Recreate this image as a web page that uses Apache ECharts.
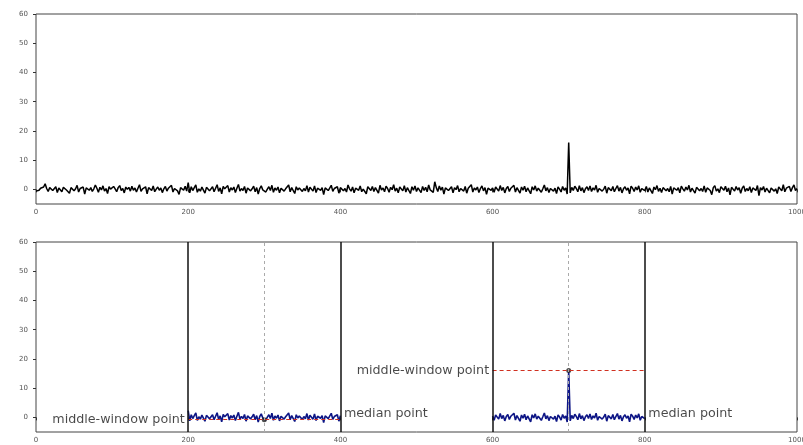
<!DOCTYPE html>
<html><head><meta charset="utf-8">
<script src="https://cdn.jsdelivr.net/npm/echarts@6/dist/echarts.min.js"></script>
<style>html,body{margin:0;padding:0;background:#fff}#c{width:803px;height:445px}</style>
</head><body><div id="c"></div>
<script>
// x step between samples
const xStep = 2;
// signal values, sampled at x = 0, 2, 4, ..., 1000
const signal = [
-0.6,-0.9,-0.3,0.4,-0.2,0.8,1.9,0.3,-0.7,0.6,1.2,-0.4,0.2,0.9,-1.1,0.5,0.1,-0.8,0.7,1.3,
-0.2,0.4,-1.3,0.6,1.0,-0.5,0.2,1.4,-0.9,0.3,-0.1,0.8,-1.6,0.5,1.1,-0.3,0.6,-0.7,0.2,1.5,
0.4,-1.0,0.7,-0.2,1.2,-0.6,0.3,-1.4,0.9,0.1,-0.5,1.0,0.2,-0.8,0.6,1.3,-0.4,0.3,-1.2,0.8,
0.0,0.7,-0.6,1.1,-0.3,0.5,-0.9,0.4,1.6,-0.7,0.2,-0.2,0.9,-1.5,0.6,0.3,-0.4,1.2,-0.8,0.1,
0.8,-0.3,0.5,-1.1,0.2,1.0,-0.6,0.4,-0.1,1.4,-0.9,0.3,0.7,-0.5,-1.7,0.6,0.2,-0.3,1.1,-0.6,
2.3,-1.2,0.9,-0.4,0.6,1.5,-1.0,0.2,-0.6,0.8,0.3,-1.3,0.7,1.2,-0.5,0.1,0.9,-0.8,0.4,1.6,
-0.7,0.5,-1.5,1.0,0.2,-0.3,1.3,-0.9,0.6,-0.2,0.8,-1.1,0.4,1.7,-0.6,0.3,-0.4,1.0,-1.3,0.5,
0.9,-0.5,0.2,1.1,-0.8,0.6,-1.6,0.3,1.2,-0.2,-0.8,-0.9,0.1,0.9,-0.4,1.4,-1.0,0.5,-0.3,0.8,
-1.2,0.4,1.0,-0.6,0.2,-0.1,1.5,-0.8,0.6,0.3,-1.4,0.9,-0.2,0.5,1.1,-0.7,0.3,-0.5,1.3,-0.9,
0.7,0.1,-0.6,1.2,-1.1,0.4,0.8,-0.3,0.6,-1.8,0.5,1.0,-0.4,0.2,1.4,-0.7,0.3,-0.2,0.9,-1.3,
0.6,1.1,-0.5,0.3,-0.9,1.5,0.2,-0.6,0.8,-1.2,0.4,0.7,-0.3,1.2,-0.8,0.1,0.5,-1.5,0.9,0.3,
-0.4,1.0,-0.7,0.6,0.2,-1.3,1.4,-0.2,0.5,-0.8,1.1,0.3,-1.0,0.7,-0.1,1.6,-0.6,0.4,-1.2,0.8,
0.2,-0.5,1.3,-0.9,0.6,0.1,-1.4,0.9,-0.3,1.2,-0.7,0.5,0.3,-1.1,1.0,-0.4,0.7,-0.8,1.5,-0.2,
0.4,-1.0,2.6,0.6,-0.7,1.2,-0.3,0.8,-1.6,0.5,1.1,-0.4,0.2,0.9,-1.2,0.6,-0.1,1.3,-0.8,0.3,
0.7,-0.6,1.0,-1.3,0.4,0.2,1.6,-0.9,0.5,-0.2,0.8,-1.1,0.3,1.2,-0.5,0.6,-1.7,0.4,0.9,-0.3,
0.5,-1.0,0.8,0.2,-0.6,1.3,-0.4,0.7,-1.2,0.3,1.0,-0.7,0.4,-0.1,1.4,-0.9,0.6,0.2,-1.3,0.8,
-0.3,1.1,-0.8,0.5,0.3,-1.5,0.9,-0.2,1.2,-0.6,0.4,0.7,-1.0,0.2,1.5,-0.5,0.6,-1.1,0.3,0.9,
-0.6,0.4,-1.4,0.8,0.1,-0.9,1.0,-0.3,0.5,-1.6,16.0,-1.2,0.7,-0.4,1.1,0.3,-0.8,1.3,-0.5,0.6,
-1.1,0.2,0.9,-0.4,1.2,-0.7,0.5,-0.2,1.4,-1.0,0.3,0.8,-0.6,0.1,1.1,-1.3,0.6,0.4,-0.5,1.0,
-0.8,0.3,1.3,-0.6,0.7,-1.2,0.2,0.9,-0.3,0.5,-1.5,1.1,0.4,-0.7,0.8,-0.2,1.2,-1.0,0.3,0.6,
-0.4,1.0,-0.9,0.5,0.2,-1.4,0.8,-0.1,1.3,-0.7,0.4,-1.1,0.6,1.2,-0.5,0.3,-0.8,1.0,-1.6,0.5,
0.9,-0.3,0.6,-1.2,1.1,0.2,-0.6,0.8,-0.2,1.4,-0.9,0.4,0.1,-1.3,0.7,1.0,-0.5,0.3,-0.7,1.2,
-1.0,0.5,0.8,-0.4,-1.8,0.6,1.3,-0.6,0.2,-1.1,0.9,0.4,-0.3,1.1,-0.8,0.5,-1.9,0.7,0.3,-0.6,
1.0,-0.2,0.6,-1.3,0.4,1.2,-0.7,0.3,-0.5,0.9,-1.1,0.5,0.8,-0.4,1.3,-2.1,0.6,-0.2,1.0,-0.9,
0.4,0.7,-1.2,0.5,1.1,-0.6,0.2,-1.4,0.8,0.3,-0.5,1.6,-0.8,0.4,-0.1,1.0,-0.7,0.6,1.5,-0.4,
0.3
];
// analysis windows [start, end]
const windows = [[200, 400], [600, 800]];
// axis ticks
const xTicks = [0, 200, 400, 600, 800, 1000];
const yTicks = [0, 10, 20, 30, 40, 50, 60];
const labelMiddle = 'middle-window point';
const labelMedian = 'median point';

const pts = signal.map((v, i) => [i * xStep, v]);
function median(arr) { const s = arr.slice().sort((a, b) => a - b); const n = s.length; return n % 2 ? s[(n - 1) / 2] : (s[n / 2 - 1] + s[n / 2]) / 2; }

const axisLabelStyle = { fontSize: 7, color: '#555', fontFamily: 'DejaVu Sans' };
function xAxis(gi) {
  return { type: 'value', gridIndex: gi, min: 0, max: 1000, interval: 200,
    axisLine: { show: false }, axisTick: { show: true, length: 3, lineStyle: { color: '#333' } },
    axisLabel: Object.assign({ margin: 5, formatter: v => String(v) }, axisLabelStyle), splitLine: { show: false } };
}
function yAxis(gi) {
  return { type: 'value', gridIndex: gi, min: -5, max: 60,
    axisLine: { show: false },
    axisTick: { show: true, length: 3, customValues: yTicks, lineStyle: { color: '#333' } },
    axisLabel: Object.assign({ margin: 8, customValues: yTicks }, axisLabelStyle), splitLine: { show: false } };
}

const series = [];
series.push({ type: 'line', xAxisIndex: 0, yAxisIndex: 0, data: pts, symbol: 'none',
  lineStyle: { color: '#000', width: 1.5 }, animation: false });

// vertical window boundary lines & dashed middle lines
const boundaries = [];
const middles = [];
windows.forEach(w => { boundaries.push({ xAxis: w[0] }, { xAxis: w[1] }); middles.push({ xAxis: (w[0] + w[1]) / 2 }); });

const labelPts = [];
windows.forEach((w, k) => {
  const seg = pts.filter(p => p[0] >= w[0] && p[0] <= w[1]);
  const vals = seg.map(p => p[1]);
  const med = median(vals);
  const midX = (w[0] + w[1]) / 2;
  const midV = pts.find(p => p[0] === midX)[1];
  series.push({ type: 'line', xAxisIndex: 1, yAxisIndex: 1, data: seg, symbol: 'none',
    lineStyle: { color: '#0d1585', width: 1.6 }, z: 3, animation: false,
    markLine: { silent: true, symbol: 'none', label: { show: false }, animation: false,
      lineStyle: { color: '#d03020', type: [4, 3], width: 1 },
      data: [[{ coord: [w[0], midV] }, { coord: [w[1], midV] }]] } });
  series.push({ type: 'scatter', xAxisIndex: 1, yAxisIndex: 1, symbolSize: 5, z: 4,
    itemStyle: { color: '#222' }, data: [[midX, midV]], animation: false });
  labelPts.push({ value: [w[0], midV], label: { formatter: labelMiddle, position: 'left', distance: 3 } });
  labelPts.push({ value: [w[1], med], label: { formatter: labelMedian, position: 'right', distance: 3, offset: [0, -3] } });
});

series.push({ type: 'scatter', xAxisIndex: 1, yAxisIndex: 1, data: [], z: 2,
  markLine: { silent: true, symbol: 'none', label: { show: false }, animation: false,
    lineStyle: { color: '#111', type: 'solid', width: 1.5 }, data: boundaries } });
series.push({ type: 'scatter', xAxisIndex: 1, yAxisIndex: 1, data: [], z: 1,
  markLine: { silent: true, symbol: 'none', label: { show: false }, animation: false,
    lineStyle: { color: '#aaa', type: [3, 3], width: 1 }, data: middles } });
series.push({ type: 'scatter', xAxisIndex: 1, yAxisIndex: 1, symbolSize: 1, z: 5, animation: false,
  itemStyle: { color: 'rgba(0,0,0,0)' },
  label: { show: true, fontSize: 12.7, color: '#1a1a1a', fontFamily: 'DejaVu Sans' }, data: labelPts });

const chart = echarts.init(document.getElementById('c'), null, { renderer: 'canvas' });
chart.setOption({
  animation: false,
  grid: [
    { left: 36, right: 6, top: 14, height: 190, show: true, borderColor: '#444', borderWidth: 1, backgroundColor: '#fff', outerBoundsMode: 'none', containLabel: false },
    { left: 36, right: 6, top: 242, height: 190, show: true, borderColor: '#444', borderWidth: 1, backgroundColor: '#fff', outerBoundsMode: 'none', containLabel: false }
  ],
  xAxis: [xAxis(0), xAxis(1)],
  yAxis: [yAxis(0), yAxis(1)],
  series: series
});
</script></body></html>
